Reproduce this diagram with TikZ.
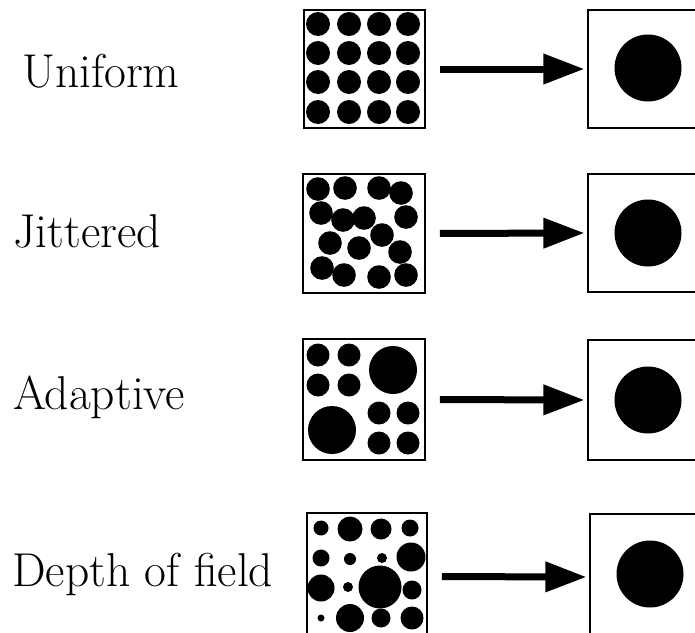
\documentclass[tikz,border=0pt]{standalone}
\usetikzlibrary{arrows.meta}
\begin{document}
\begin{tikzpicture}[x=1pt,y=-1pt,
  samplebox/.style={draw,line width=1.6pt,inner sep=0pt,rectangle},
  pixelbox/.style={draw,line width=1.2pt,inner sep=0pt,rectangle},
  dot/.style={fill=black,draw=none},
  label/.style={anchor=base west,inner sep=0pt,font=\fontsize{47.5}{55}\selectfont},
  bigarrow/.style={line width=7pt,-{Triangle[length=41pt,width=29pt]},
                   shorten <=14pt,shorten >=3pt}]
\useasboundingbox (0,0) rectangle (695,632);

% row labels
\node[label] (t1) at (22,87)  {Uniform};
\node[label] (t2) at (13,247) {Jittered};
\node[label] (t3) at (13,409) {Adaptive};
\node[label] (t4) at (12,586) {Depth of field};

% sample boxes
\node[samplebox,minimum width=121pt,minimum height=118pt] (l1) at (364.5,69) {};
\node[samplebox,minimum width=122pt,minimum height=119pt] (l2) at (364,233.5) {};
\node[samplebox,minimum width=122pt,minimum height=121pt] (l3) at (364,399.5) {};
\node[samplebox,minimum width=120pt,minimum height=127pt] (l4) at (367,576.5) {};

% pixel boxes (running past the right edge)
\node[pixelbox,minimum width=112pt,minimum height=118pt] (r1) at (644,69) {};
\node[pixelbox,minimum width=112pt,minimum height=118pt] (r2) at (644,233) {};
\node[pixelbox,minimum width=112pt,minimum height=120pt] (r3) at (644,400) {};
\node[pixelbox,minimum width=110pt,minimum height=126pt] (r4) at (645,577) {};

% uniform grid of samples
\foreach \cx in {318,349,379,408}
  \foreach \cy in {24,53,82,112}
    \fill[dot] (\cx,\cy) circle[radius=12];

% jittered samples
\foreach \cx/\cy in {318/189,345/188,379/188,401/193,
                     321/213,343/220,364/218,406/217,
                     382/235,330/243,359/248,400/252,
                     322/268,344/275,379/277,406/275}
  \fill[dot] (\cx,\cy) circle[radius=11.8];

% adaptive samples
\foreach \cx/\cy/\r in {318/355/11.5,349/355/11.5,318/385/11.5,349/385/11.5,
                        393/370/24,332/430/24,
                        379/413/11.5,408/413/11.5,379/443/11.5,408/443/11.5}
  \fill[dot] (\cx,\cy) circle[radius=\r];

% depth-of-field samples
\foreach \cx/\cy/\r in {321/528/7.5,350/529/12.5,381/529/10.5,410/528/8.5,
                        321/558/8.5,350/559/6,382/558/5,411/557/14.5,
                        321/588/13.5,348/587/5,380/587/21.5,412/590/9.5,
                        321/618/3.5,350/618/14,381/618/9.5,412/618/11.5}
  \fill[dot] (\cx,\cy) circle[radius=\r];

% resulting pixels
\fill[dot] (648,68)  circle[radius=33.5];
\fill[dot] (648,233) circle[radius=33.5];
\fill[dot] (648,400) circle[radius=33.5];
\fill[dot] (650,574) circle[radius=33.5];

% arrows
\draw[bigarrow] (l1.east) -- (r1.west);
\draw[bigarrow] (l2.east) -- (r2.west);
\draw[bigarrow] (l3.east) -- (r3.west);
\draw[bigarrow] (l4.east) -- (r4.west);
\end{tikzpicture}
\end{document}
